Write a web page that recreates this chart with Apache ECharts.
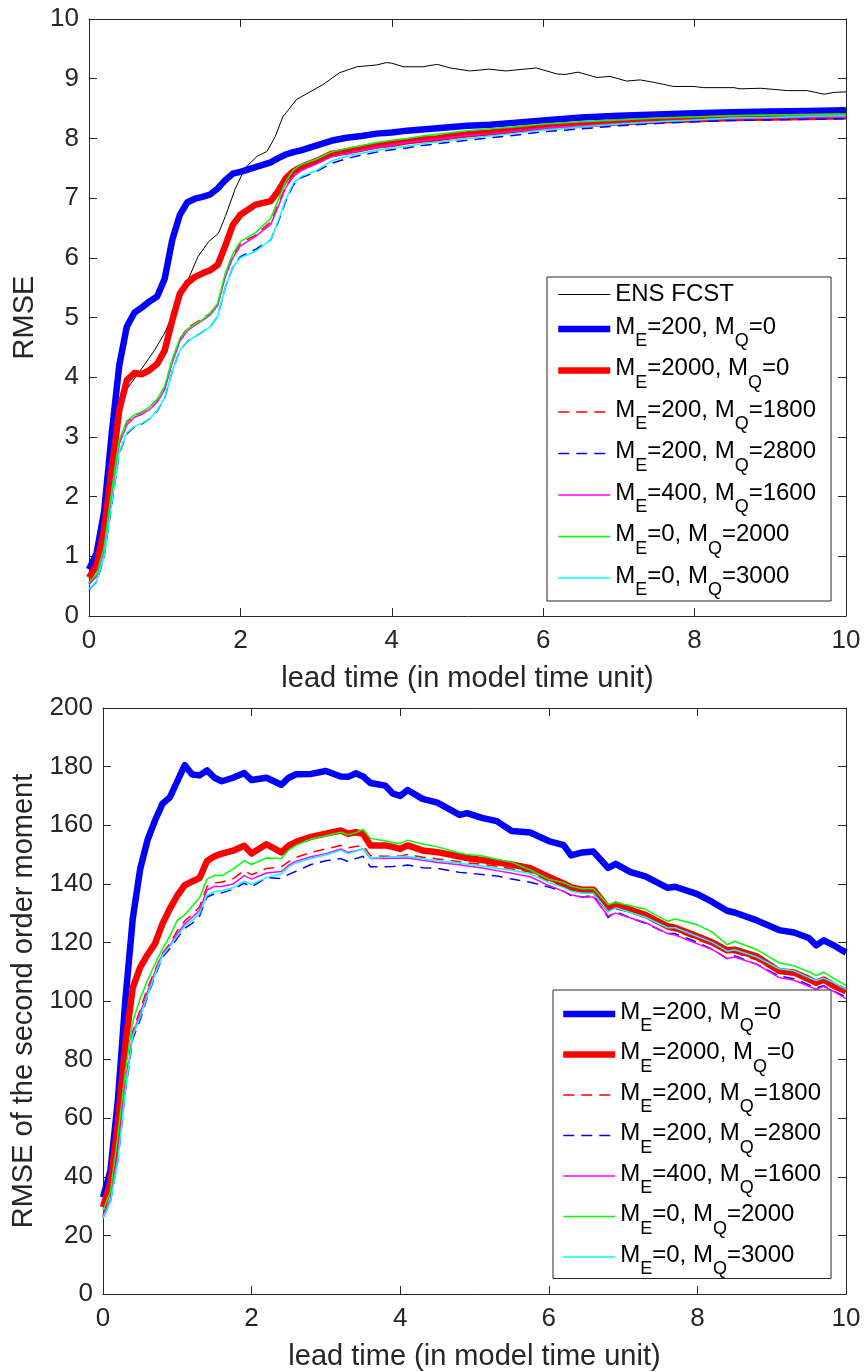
<!DOCTYPE html>
<html>
<head>
<meta charset="utf-8">
<script src="https://cdn.jsdelivr.net/npm/echarts@6/dist/echarts.min.js"></script>
<style>
html,body{margin:0;padding:0;background:#fff;}
#chart{width:865px;height:1372px;}
</style>
</head>
<body>
<div id="chart"></div>
<script>
// ---------- data ----------
const xTicks = [0, 2, 4, 6, 8, 10];
const seriesNames = ['ENS FCST', 'M_E=200, M_Q=0', 'M_E=2000, M_Q=0', 'M_E=200, M_Q=1800',
  'M_E=200, M_Q=2800', 'M_E=400, M_Q=1600', 'M_E=0, M_Q=2000', 'M_E=0, M_Q=3000'];

// Top panel: RMSE
const topX = [0,0.1,0.2,0.3,0.4,0.5,0.6,0.7,0.8,0.9,1.0,1.1,1.2,1.3,1.4,1.5,1.6,1.7,1.8,1.9,2.0,2.2,2.4,2.5,2.6,2.7,2.8,3.0,3.2,3.4,3.6,3.8,4.0,4.2,4.4,4.6,4.8,5.0,5.3,5.6,6.0,6.5,7.0,7.5,8.0,8.5,9.0,9.5,10];
const ensX = [0,0.1,0.2,0.3,0.4,0.5,0.7,0.87,1.0,1.13,1.27,1.44,1.58,1.71,1.8,1.93,2.06,2.22,2.35,2.46,2.56,2.74,2.92,3.09,3.31,3.54,3.8,3.93,4.0,4.15,4.41,4.6,4.77,5.03,5.29,5.51,5.91,6.18,6.29,6.46,6.71,6.88,7.1,7.28,7.46,7.72,7.99,8.12,8.52,8.6,8.87,9.05,9.23,9.49,9.71,9.84,10];
const ensRmse = [0.55,0.78,1.45,2.55,3.45,3.8,4.15,4.46,4.74,5.13,5.52,6.02,6.27,6.41,6.69,7.15,7.5,7.7,7.78,8.03,8.36,8.65,8.78,8.9,9.1,9.2,9.23,9.27,9.26,9.2,9.2,9.24,9.18,9.13,9.16,9.13,9.18,9.08,9.07,9.11,9.02,9.04,8.96,8.98,8.94,8.87,8.87,8.85,8.85,8.83,8.84,8.82,8.8,8.8,8.74,8.77,8.78];
const rmseE200Q0 = [0.78,1.05,1.75,3.05,4.2,4.85,5.08,5.17,5.27,5.35,5.65,6.3,6.72,6.93,6.99,7.02,7.06,7.16,7.3,7.41,7.44,7.52,7.6,7.67,7.73,7.77,7.8,7.88,7.96,8.01,8.04,8.08,8.1,8.13,8.15,8.17,8.19,8.21,8.23,8.26,8.3,8.35,8.38,8.4,8.42,8.44,8.45,8.46,8.47];
const rmseE2000Q0 = [0.64,0.85,1.45,2.45,3.45,3.95,4.07,4.05,4.12,4.22,4.45,4.95,5.4,5.58,5.68,5.74,5.79,5.88,6.2,6.55,6.72,6.89,6.95,7.12,7.33,7.45,7.52,7.62,7.74,7.78,7.83,7.88,7.91,7.95,7.98,8.0,8.04,8.07,8.1,8.14,8.19,8.23,8.27,8.3,8.32,8.34,8.35,8.36,8.37];
const rmseE200Q1800 = [0.55,0.68,1.12,2.05,2.92,3.25,3.36,3.41,3.5,3.62,3.83,4.28,4.64,4.83,4.9,4.99,5.07,5.22,5.7,6.04,6.24,6.38,6.6,6.9,7.2,7.38,7.48,7.58,7.7,7.76,7.81,7.86,7.9,7.93,7.97,8.0,8.02,8.05,8.08,8.11,8.16,8.2,8.24,8.27,8.3,8.31,8.32,8.33,8.34];
const rmseE200Q2800 = [0.44,0.57,0.98,1.86,2.73,3.05,3.17,3.22,3.3,3.43,3.65,4.1,4.45,4.6,4.68,4.76,4.84,5.02,5.5,5.84,6.02,6.14,6.3,6.6,6.95,7.22,7.34,7.44,7.58,7.66,7.72,7.77,7.81,7.84,7.88,7.91,7.94,7.97,8.01,8.05,8.11,8.16,8.21,8.25,8.28,8.3,8.31,8.32,8.33];
const rmseE400Q1600 = [0.53,0.66,1.1,2.0,2.88,3.2,3.33,3.38,3.46,3.58,3.79,4.24,4.6,4.78,4.87,4.95,5.04,5.2,5.68,6.0,6.2,6.36,6.56,6.86,7.18,7.36,7.46,7.57,7.69,7.75,7.8,7.85,7.89,7.93,7.96,7.99,8.02,8.05,8.08,8.12,8.17,8.21,8.25,8.28,8.31,8.33,8.34,8.35,8.36];
const rmseE0Q2000 = [0.56,0.7,1.15,2.1,2.95,3.27,3.37,3.42,3.5,3.63,3.85,4.3,4.65,4.81,4.89,4.97,5.07,5.24,5.74,6.07,6.27,6.42,6.66,6.97,7.28,7.47,7.56,7.65,7.77,7.83,7.88,7.93,7.97,8.0,8.04,8.07,8.1,8.13,8.16,8.19,8.24,8.28,8.31,8.34,8.36,8.38,8.39,8.4,8.41];
const rmseE0Q3000 = [0.45,0.58,1.0,1.88,2.75,3.07,3.18,3.23,3.3,3.44,3.66,4.1,4.45,4.6,4.68,4.76,4.84,5.02,5.5,5.84,6.0,6.11,6.3,6.62,6.98,7.25,7.36,7.46,7.62,7.7,7.75,7.8,7.84,7.87,7.91,7.94,7.97,8.0,8.04,8.08,8.14,8.19,8.24,8.28,8.31,8.34,8.35,8.37,8.38];
const topYTicks = [0,1,2,3,4,5,6,7,8,9,10];

// Bottom panel: RMSE of the second order moment
const botX = [0,0.1,0.2,0.3,0.4,0.5,0.6,0.7,0.8,0.9,1.0,1.1,1.2,1.3,1.4,1.5,1.6,1.75,1.9,2.0,2.2,2.4,2.5,2.6,2.8,3.0,3.2,3.3,3.4,3.5,3.6,3.8,3.9,4.0,4.1,4.3,4.5,4.8,4.9,5.1,5.3,5.5,5.75,6.0,6.2,6.3,6.45,6.6,6.8,6.9,7.1,7.3,7.6,7.7,8.0,8.2,8.4,8.5,8.8,9.1,9.3,9.5,9.6,9.7,9.85,10];
const momE200Q0 = [33,42,66,100,128,145,155,161.6,167.3,169.5,175,180.5,177.3,177,178.7,176.2,175,176.2,177.8,175.4,176.2,173.8,176.2,177.4,177.5,178.5,176.6,176.5,177.7,176.6,174.4,173.5,170.8,170,172,169,167.7,163.5,164.1,162.5,161.4,158,157.5,154.6,153.2,149.7,150.7,151,145.4,146.8,144,142.5,138.6,139,136.5,133.8,130.8,130.2,127.5,124.2,123.4,121.5,119,120.7,118.8,116.5];
const momE2000Q0 = [29.6,38,58,85,104.5,111.5,115.8,119.6,126.3,131.5,136,139.5,140.8,142,147.8,149.4,150.3,151.3,153,150.3,153.5,150.7,153,154.3,156,157.1,158.2,157.1,157.6,157.1,153.1,153.1,152.6,151.9,153.1,151.4,150.8,149.3,148.8,148.1,147.3,146.6,145.3,142.3,140.1,138.8,138,138,131.7,132.9,131.1,129.4,125.5,125,122.1,120,117.3,117.5,115.2,110.2,109.7,107.5,106.2,107.3,105,103.3];
const momE200Q1800 = [27.1,33,49,71.5,89.5,97,104.5,110.5,116.3,119.6,124,127.3,129.5,132.2,139.1,140.3,140.6,141.7,144.5,143.1,145.2,145.8,147.6,149,150.7,151.9,153.1,152.3,152.7,153.1,149.6,149.4,149.4,149.5,150,149.1,148.5,147.5,147.1,146.7,146,145.1,144,140.9,139,137.6,137,137,130.5,131.5,130.2,128.5,124.6,124,121,119.1,116.5,116.5,114,109.5,108.8,106.5,105.5,106.5,104.5,102.5];
const momE200Q2800 = [26,31.5,45.4,69,87,93.5,101.5,108.5,115,117.8,121.5,124.8,126.5,129,135.5,136.6,136.9,138.1,140.2,139,142.1,141.8,143.2,144.3,146.6,147.9,148.6,147.6,148.6,149.4,145.8,145.8,145.9,146.1,146.4,145.5,145.3,143.9,143.7,143.2,142.7,141.6,140.5,138.9,137.4,136,135.5,136,128.5,130.5,128.3,126.5,123,123,120,117.7,114.5,115.5,112.5,108.5,107.6,105.5,104.5,105.2,103.2,101.3];
const momE400Q1600 = [26.5,32.5,47.8,70.5,88.5,95.8,103.2,110,116,119,123,126.3,128.5,131,137.9,139.1,139.1,139.9,142.8,141.6,143.7,144.2,146.4,147.7,149.2,150.3,151.9,150.7,151.3,151.9,148.6,148.6,148.7,148.7,148.8,148,147.3,146.5,146.1,145.4,144.5,143.6,142.4,139.4,137.4,136.2,135.5,135.5,129,130,128.3,126.8,123,122.5,119.5,117.6,114.5,115,112.5,108,107.1,105,104,105,103,100.8];
const momE0Q2000 = [28.4,35,54,76,93,100.8,107,112.7,117.8,122.1,127.5,129.4,132.3,135.2,141.6,142.8,142.8,145,147.8,146.6,148.8,148.6,151.5,153.2,155.3,156.4,157.6,156.7,157.4,158.6,155.5,154.6,154.1,153.7,154.9,153.6,152.6,150.5,150,149.6,148.4,147.4,144.7,141.6,140.4,139.2,138.3,138.3,132.9,133.7,132.5,131.3,127.2,128,126,123.5,119.2,120.4,117.5,113,112,110,108.7,109.8,107.5,105.3];
const momE0Q3000 = [25.9,31.5,45.4,69.5,88,94.6,102,109,115.5,118.7,122.2,125.5,127.5,130,136.1,137.3,137.6,138.7,140.9,139.8,142.1,143.4,145.8,147.2,148.7,149.8,151.5,150.3,151.1,151.9,148.8,149.1,149.2,149.3,149.4,148.5,147.9,147,146.7,146.1,145.3,144.6,143.4,140.5,138.7,137.5,136.8,136.8,130.5,131.8,130.2,128.6,125,125,122,120,117,117.5,115,111,110.3,108,107,107.8,106,104];
const botYTicks = [0,20,40,60,80,100,120,140,160,180,200];

// ---------- styling ----------
const FONT = '"Liberation Sans", Arial, Helvetica, sans-serif';
const AX = '#262626';
const styles = [
  {color:'#000000', width:1, type:'solid'},
  {color:'#0000ff', width:6.5, type:'solid'},
  {color:'#ff0000', width:6.5, type:'solid'},
  {color:'#ff0000', width:1.5, type:[11,7]},
  {color:'#0000ff', width:1.5, type:[11,7]},
  {color:'#ff00ff', width:1.5, type:'solid'},
  {color:'#00ff00', width:1.5, type:'solid'},
  {color:'#00ffff', width:1.5, type:'solid'}
];

function pairs(xs, ys){ return xs.map((x,i)=>[x, ys[i]]); }
function line(name, data, st, xi, yi){
  return {type:'line', name:name, data:data, xAxisIndex:xi, yAxisIndex:yi,
    symbol:'circle', symbolSize:0, showSymbol:false, animation:false, clip:true,
    lineStyle:{color:st.color, width:st.width, type:st.type, cap:'butt', join:'round'},
    itemStyle:{color:st.color}};
}

const topSeries = [
  line(seriesNames[0], pairs(ensX, ensRmse), styles[0], 0, 0),
  line(seriesNames[1], pairs(topX, rmseE200Q0), styles[1], 0, 0),
  line(seriesNames[2], pairs(topX, rmseE2000Q0), styles[2], 0, 0),
  line(seriesNames[3], pairs(topX, rmseE200Q1800), styles[3], 0, 0),
  line(seriesNames[4], pairs(topX, rmseE200Q2800), styles[4], 0, 0),
  line(seriesNames[5], pairs(topX, rmseE400Q1600), styles[5], 0, 0),
  line(seriesNames[6], pairs(topX, rmseE0Q2000), styles[6], 0, 0),
  line(seriesNames[7], pairs(topX, rmseE0Q3000), styles[7], 0, 0)
];
const botSeries = [
  line(seriesNames[1], pairs(botX, momE200Q0), styles[1], 2, 2),
  line(seriesNames[2], pairs(botX, momE2000Q0), styles[2], 2, 2),
  line(seriesNames[3], pairs(botX, momE200Q1800), styles[3], 2, 2),
  line(seriesNames[4], pairs(botX, momE200Q2800), styles[4], 2, 2),
  line(seriesNames[5], pairs(botX, momE400Q1600), styles[5], 2, 2),
  line(seriesNames[6], pairs(botX, momE0Q2000), styles[6], 2, 2),
  line(seriesNames[7], pairs(botX, momE0Q3000), styles[7], 2, 2)
];

function xAxisPair(grid, name){
  const common = {type:'value', gridIndex:grid, min:xTicks[0], max:xTicks[xTicks.length-1],
    interval:xTicks[1]-xTicks[0], splitLine:{show:false},
    axisLine:{show:true, onZero:false, lineStyle:{color:AX, width:1}},
    axisTick:{show:true, inside:true, length:8, lineStyle:{color:AX, width:1}}};
  return [
    Object.assign({}, common, {position:'bottom',
      axisLabel:{show:true, fontSize:26, color:AX, fontFamily:FONT, margin:12},
      name:name, nameLocation:'middle', nameGap:48,
      nameTextStyle:{fontSize:29, color:AX, fontFamily:FONT}}),
    Object.assign({}, common, {position:'top', axisLabel:{show:false}})
  ];
}
function yAxisPair(grid, ticks, name, gap){
  const common = {type:'value', gridIndex:grid, min:ticks[0], max:ticks[ticks.length-1],
    interval:ticks[1]-ticks[0], splitLine:{show:false},
    axisLine:{show:true, onZero:false, lineStyle:{color:AX, width:1}},
    axisTick:{show:true, inside:true, length:8, lineStyle:{color:AX, width:1}}};
  return [
    Object.assign({}, common, {position:'left',
      axisLabel:{show:true, fontSize:26, color:AX, fontFamily:FONT, margin:10},
      name:name, nameLocation:'middle', nameRotate:90, nameGap:gap,
      nameTextStyle:{fontSize:29, color:AX, fontFamily:FONT}}),
    Object.assign({}, common, {position:'right', axisLabel:{show:false}})
  ];
}

// Legend labels: "_X" becomes a subscript X (rich text)
function legendFmt(name){
  if (name.indexOf('_') < 0) return '{p|' + name + '}';
  return '{z|\u200b}{n|' + name.replace(/_(\w)/g, '}{s|$1}{n|') + '}';
}
const legendText = {fontFamily:FONT, fontSize:24, color:'#000',
  rich:{
    p:{fontFamily:FONT, fontSize:24, color:'#000', lineHeight:29, height:29},
    z:{fontFamily:FONT, fontSize:2, lineHeight:40, color:'#000'},
    n:{fontFamily:FONT, fontSize:24, color:'#000', lineHeight:24, height:36, verticalAlign:'top'},
    s:{fontFamily:FONT, fontSize:18, color:'#000', lineHeight:16, height:15, verticalAlign:'bottom'}
  }};
function legend(names, left, top, pad, gap){
  return {data:names, orient:'vertical', left:left, top:top, itemWidth:52, itemHeight:14, itemGap:gap,
    padding:pad, backgroundColor:'#fff', borderColor:AX, borderWidth:1, borderRadius:0,
    itemStyle:{opacity:0, borderWidth:0},
    lineStyle:{width:'inherit', type:'inherit', color:'inherit'},
    selectedMode:false, formatter:legendFmt, textStyle:legendText, align:'left', z:10};
}

const option = {
  backgroundColor:'#fff',
  animation:false,
  grid:[
    {left:89, right:19, top:19, height:597, containLabel:false},
    {left:103, right:19, top:708, height:587, containLabel:false}
  ],
  xAxis: xAxisPair(0, 'lead time (in model time unit)').concat(xAxisPair(1, 'lead time (in model time unit)')),
  yAxis: yAxisPair(0, topYTicks, 'RMSE', 49).concat(yAxisPair(1, botYTicks, 'RMSE of the second order moment', 63)),
  legend:[ legend(seriesNames, 547, 277, [3,15,1.5,8], 0), legend(seriesNames.slice(1), 553, 990, [4,10,0,7], -1) ],
  series: topSeries.concat(botSeries)
};

const chart = echarts.init(document.getElementById('chart'), null, {renderer:'canvas'});
chart.setOption(option);
</script>
</body>
</html>
